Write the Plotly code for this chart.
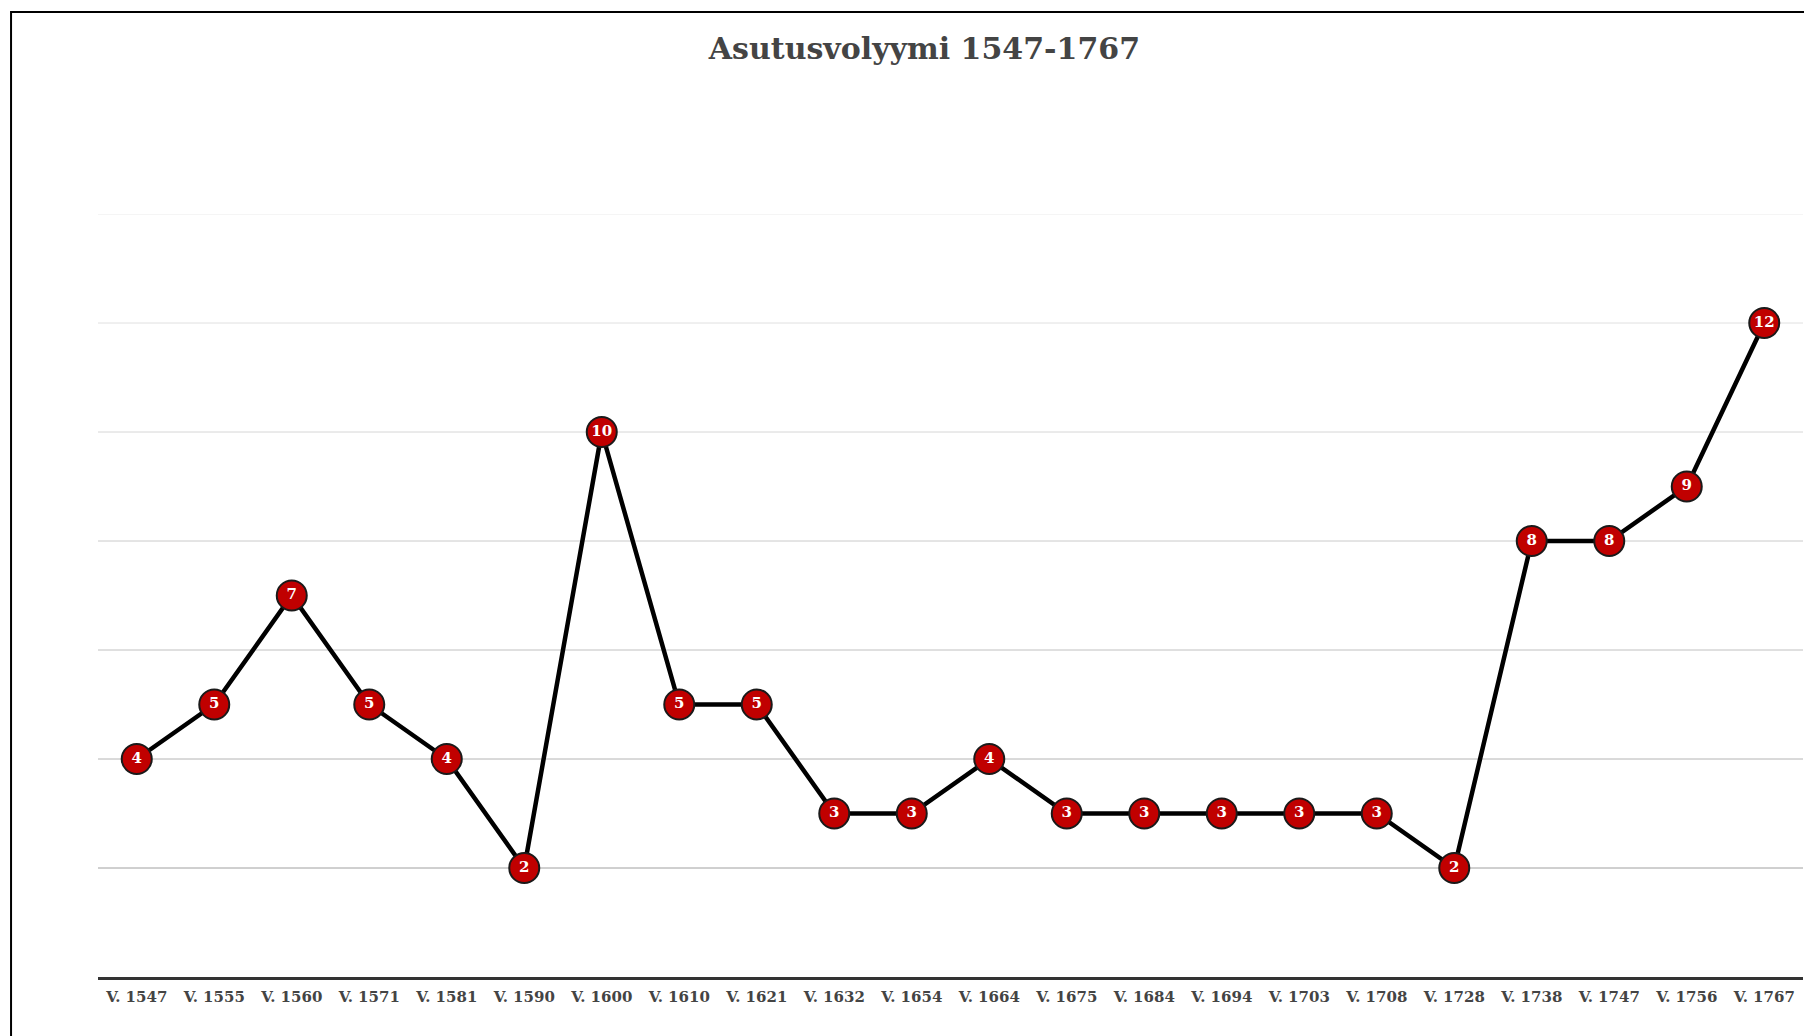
import plotly.graph_objects as go

categories = ["V. 1547", "V. 1555", "V. 1560", "V. 1571", "V. 1581", "V. 1590",
              "V. 1600", "V. 1610", "V. 1621", "V. 1632", "V. 1654", "V. 1664",
              "V. 1675", "V. 1684", "V. 1694", "V. 1703", "V. 1708", "V. 1728",
              "V. 1738", "V. 1747", "V. 1756", "V. 1767"]
values = [4, 5, 7, 5, 4, 2, 10, 5, 5, 3, 3, 4, 3, 3, 3, 3, 3, 2, 8, 8, 9, 12]

grid_values = [2, 4, 6, 8, 10, 12, 14]
grid_colors = ["#a0a0a0", "#b4b4b4", "#c0c0c0", "#cacaca", "#d6d6d6", "#e0e0e0", "#ececec"]

SERIF = "DejaVu Serif, Georgia, serif"

fig = go.Figure()
fig.add_trace(go.Scatter(
    x=categories, y=values, mode="lines+markers+text",
    line=dict(color="#000000", width=4.5),
    marker=dict(size=30, color="#c00000", line=dict(color="#1a1a1a", width=2)),
    text=[str(v) for v in values], textposition="middle center",
    textfont=dict(family=SERIF, size=15, color="#ffffff", weight="bold"),
    hoverinfo="x+y", showlegend=False, cliponaxis=False,
))

shapes = []
for gv, gc in zip(grid_values, grid_colors):
    shapes.append(dict(type="line", xref="paper", yref="y", x0=0, x1=1, y0=gv, y1=gv,
                       line=dict(color=gc, width=1), layer="below"))
# outer frame
shapes.append(dict(type="rect", xref="paper", yref="paper", x0=-0.051, x1=1.2,
                   y0=-0.5, y1=1.2646, line=dict(color="#000000", width=2),
                   fillcolor="rgba(0,0,0,0)"))

fig.update_layout(
    width=1804, height=1028,
    margin=dict(l=90, r=9, t=206, b=59),
    paper_bgcolor="#ffffff", plot_bgcolor="#ffffff",
    title=dict(text="<b>Asutusvolyymi 1547-1767</b>", x=0.508, xanchor="center",
               y=1 - 40.5 / 1028, yanchor="middle",
               font=dict(family=SERIF, size=30, color="#444444")),
    xaxis=dict(type="category", range=[-0.5, len(categories) - 0.5],
               showgrid=False, showline=True, linecolor="#333333", linewidth=3,
               ticks="", ticklabelstandoff=4,
               tickfont=dict(family=SERIF, size=15, color="#444444", weight="bold"),
               zeroline=False, fixedrange=True),
    yaxis=dict(range=[0, 14], showgrid=False, showticklabels=False, ticks="",
               zeroline=False, showline=False, fixedrange=True),
    shapes=shapes,
)

fig.write_html("out.html")
